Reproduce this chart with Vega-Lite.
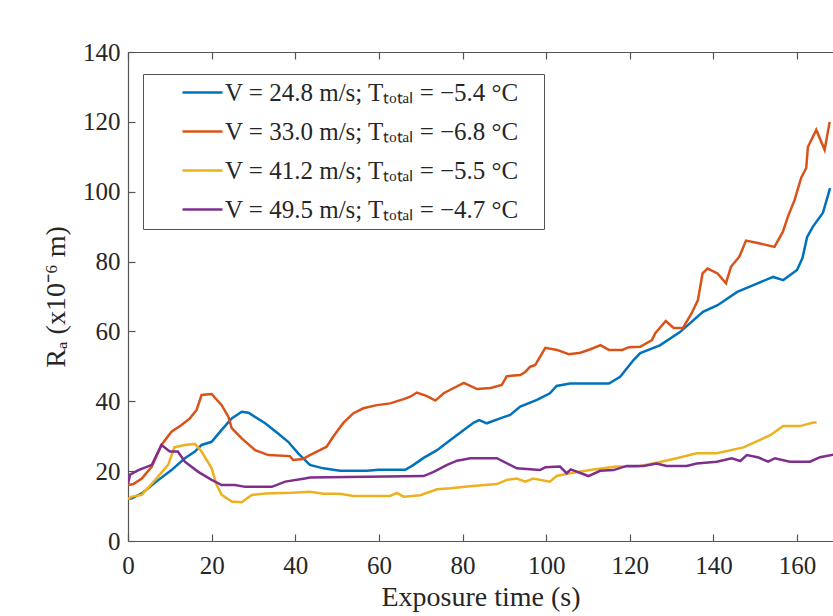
{
  "$schema": "https://vega.github.io/schema/vega-lite/v6.json",
  "autosize": {"type": "none"},
  "padding": {"left": 128, "top": 52, "right": 0, "bottom": 75},
  "width": 705,
  "height": 489,
  "background": "white",
  "config": {
    "view": {"stroke": null},
    "font": "Liberation Serif",
    "axis": {
      "labelFont": "Liberation Serif",
      "titleFont": "Liberation Serif",
      "labelFontSize": 25,
      "titleFontSize": 28,
      "titleFontWeight": "normal",
      "labelColor": "#262626",
      "titleColor": "#262626",
      "domainColor": "#555555",
      "domainWidth": 1.2,
      "tickColor": "#555555",
      "tickWidth": 1.2,
      "tickSize": -7,
      "grid": false
    },
    "legend": {
      "labelFont": "Liberation Serif",
      "labelFontSize": 25,
      "labelColor": "#262626"
    }
  },
  "data": {
    "values": [
      {"t": 0, "r": 12, "v": "24.8"}, {"t": 0.9, "r": 12.2, "v": "24.8"}, {"t": 3.3, "r": 13.6, "v": "24.8"}, {"t": 7.3, "r": 17.5, "v": "24.8"}, {"t": 10.4, "r": 20.3, "v": "24.8"}, {"t": 13.6, "r": 23.7, "v": "24.8"}, {"t": 16, "r": 25.6, "v": "24.8"}, {"t": 17.6, "r": 27.5, "v": "24.8"}, {"t": 20, "r": 28.4, "v": "24.8"}, {"t": 22.4, "r": 31.8, "v": "24.8"}, {"t": 24.8, "r": 35.1, "v": "24.8"}, {"t": 27.2, "r": 37, "v": "24.8"}, {"t": 28.8, "r": 36.7, "v": "24.8"}, {"t": 32.8, "r": 33.7, "v": "24.8"}, {"t": 35.9, "r": 30.8, "v": "24.8"}, {"t": 38.3, "r": 28.4, "v": "24.8"}, {"t": 40.7, "r": 25.1, "v": "24.8"}, {"t": 43.5, "r": 21.8, "v": "24.8"}, {"t": 46.7, "r": 20.8, "v": "24.8"}, {"t": 50.7, "r": 20.1, "v": "24.8"}, {"t": 57.1, "r": 20.1, "v": "24.8"}, {"t": 60, "r": 20.4, "v": "24.8"}, {"t": 66.3, "r": 20.4, "v": "24.8"}, {"t": 68.3, "r": 21.8, "v": "24.8"}, {"t": 70.7, "r": 23.8, "v": "24.8"}, {"t": 73.9, "r": 26, "v": "24.8"}, {"t": 77.1, "r": 28.9, "v": "24.8"}, {"t": 80.3, "r": 31.8, "v": "24.8"}, {"t": 82.7, "r": 33.9, "v": "24.8"}, {"t": 84, "r": 34.6, "v": "24.8"}, {"t": 85.8, "r": 33.7, "v": "24.8"}, {"t": 89, "r": 35.1, "v": "24.8"}, {"t": 91.4, "r": 36.1, "v": "24.8"}, {"t": 93.8, "r": 38.5, "v": "24.8"}, {"t": 97.8, "r": 40.4, "v": "24.8"}, {"t": 100.9, "r": 42.3, "v": "24.8"}, {"t": 102.5, "r": 44.4, "v": "24.8"}, {"t": 105.7, "r": 45.1, "v": "24.8"}, {"t": 115, "r": 45.1, "v": "24.8"}, {"t": 117.7, "r": 47, "v": "24.8"}, {"t": 120.9, "r": 51.8, "v": "24.8"}, {"t": 122.5, "r": 53.8, "v": "24.8"}, {"t": 127.2, "r": 56, "v": "24.8"}, {"t": 132, "r": 59.8, "v": "24.8"}, {"t": 137.5, "r": 65.6, "v": "24.8"}, {"t": 141, "r": 67.5, "v": "24.8"}, {"t": 145.7, "r": 71.3, "v": "24.8"}, {"t": 150, "r": 73.5, "v": "24.8"}, {"t": 154.3, "r": 75.6, "v": "24.8"}, {"t": 156.7, "r": 74.7, "v": "24.8"}, {"t": 160, "r": 77.6, "v": "24.8"}, {"t": 161.3, "r": 81, "v": "24.8"}, {"t": 162.4, "r": 87, "v": "24.8"}, {"t": 163.8, "r": 90, "v": "24.8"}, {"t": 166.2, "r": 94, "v": "24.8"}, {"t": 167.9, "r": 101, "v": "24.8"},

      {"t": 0, "r": 16, "v": "33.0"}, {"t": 1.3, "r": 16.3, "v": "33.0"}, {"t": 3.3, "r": 17.9, "v": "33.0"}, {"t": 5.7, "r": 21.3, "v": "33.0"}, {"t": 8, "r": 27.5, "v": "33.0"}, {"t": 10.4, "r": 31.3, "v": "33.0"}, {"t": 12.8, "r": 33.2, "v": "33.0"}, {"t": 14.8, "r": 35.1, "v": "33.0"}, {"t": 16.4, "r": 37.5, "v": "33.0"}, {"t": 17.6, "r": 41.8, "v": "33.0"}, {"t": 20, "r": 42.1, "v": "33.0"}, {"t": 22.4, "r": 38.9, "v": "33.0"}, {"t": 24, "r": 35.6, "v": "33.0"}, {"t": 24.8, "r": 32.3, "v": "33.0"}, {"t": 27.2, "r": 29.4, "v": "33.0"}, {"t": 30.4, "r": 26, "v": "33.0"}, {"t": 33.6, "r": 24.6, "v": "33.0"}, {"t": 38.7, "r": 24.3, "v": "33.0"}, {"t": 39.5, "r": 23.2, "v": "33.0"}, {"t": 41.9, "r": 23.5, "v": "33.0"}, {"t": 43.5, "r": 24.6, "v": "33.0"}, {"t": 45.9, "r": 26, "v": "33.0"}, {"t": 47.5, "r": 27, "v": "33.0"}, {"t": 49.1, "r": 29.9, "v": "33.0"}, {"t": 51.5, "r": 33.8, "v": "33.0"}, {"t": 53.9, "r": 36.6, "v": "33.0"}, {"t": 56.3, "r": 38, "v": "33.0"}, {"t": 59.5, "r": 38.9, "v": "33.0"}, {"t": 62.7, "r": 39.4, "v": "33.0"}, {"t": 65.9, "r": 40.6, "v": "33.0"}, {"t": 67.5, "r": 41.3, "v": "33.0"}, {"t": 69.1, "r": 42.5, "v": "33.0"}, {"t": 71.5, "r": 41.5, "v": "33.0"}, {"t": 73.5, "r": 40.2, "v": "33.0"}, {"t": 75.5, "r": 42.3, "v": "33.0"}, {"t": 77.9, "r": 43.8, "v": "33.0"}, {"t": 80.3, "r": 45.3, "v": "33.0"}, {"t": 83.5, "r": 43.5, "v": "33.0"}, {"t": 86.7, "r": 43.8, "v": "33.0"}, {"t": 89.4, "r": 44.7, "v": "33.0"}, {"t": 90.6, "r": 47.2, "v": "33.0"}, {"t": 93.8, "r": 47.5, "v": "33.0"}, {"t": 95, "r": 48.4, "v": "33.0"}, {"t": 96.2, "r": 49.9, "v": "33.0"}, {"t": 97.4, "r": 50.4, "v": "33.0"}, {"t": 99.8, "r": 55.3, "v": "33.0"}, {"t": 102.6, "r": 54.7, "v": "33.0"}, {"t": 105.4, "r": 53.5, "v": "33.0"}, {"t": 108.2, "r": 53.9, "v": "33.0"}, {"t": 110.6, "r": 54.9, "v": "33.0"}, {"t": 113, "r": 56.1, "v": "33.0"}, {"t": 115, "r": 54.7, "v": "33.0"}, {"t": 118.2, "r": 54.7, "v": "33.0"}, {"t": 119.8, "r": 55.5, "v": "33.0"}, {"t": 122.5, "r": 55.6, "v": "33.0"}, {"t": 125.3, "r": 57.5, "v": "33.0"}, {"t": 126.1, "r": 59.5, "v": "33.0"}, {"t": 128.6, "r": 63, "v": "33.0"}, {"t": 130.5, "r": 61, "v": "33.0"}, {"t": 132.7, "r": 61, "v": "33.0"}, {"t": 134.7, "r": 65, "v": "33.0"}, {"t": 136.3, "r": 69, "v": "33.0"}, {"t": 137.4, "r": 76.6, "v": "33.0"}, {"t": 138.6, "r": 78, "v": "33.0"}, {"t": 141, "r": 76.6, "v": "33.0"}, {"t": 143, "r": 73.8, "v": "33.0"}, {"t": 144.2, "r": 78.5, "v": "33.0"}, {"t": 146.2, "r": 81.4, "v": "33.0"}, {"t": 147.8, "r": 86, "v": "33.0"}, {"t": 150.6, "r": 85.3, "v": "33.0"}, {"t": 154.6, "r": 84.2, "v": "33.0"}, {"t": 156.6, "r": 88.5, "v": "33.0"}, {"t": 157.8, "r": 92.8, "v": "33.0"}, {"t": 159.4, "r": 97.6, "v": "33.0"}, {"t": 161, "r": 104, "v": "33.0"}, {"t": 162.2, "r": 106.8, "v": "33.0"}, {"t": 162.6, "r": 112.8, "v": "33.0"}, {"t": 164.6, "r": 117.7, "v": "33.0"}, {"t": 166.6, "r": 112, "v": "33.0"}, {"t": 167.8, "r": 120, "v": "33.0"},

      {"t": 0, "r": 12, "v": "41.2"}, {"t": 0.9, "r": 12.7, "v": "41.2"}, {"t": 3.3, "r": 13.2, "v": "41.2"}, {"t": 6.5, "r": 17.5, "v": "41.2"}, {"t": 9.6, "r": 21.8, "v": "41.2"}, {"t": 11.1, "r": 26.8, "v": "41.2"}, {"t": 13.6, "r": 27.5, "v": "41.2"}, {"t": 16, "r": 27.8, "v": "41.2"}, {"t": 17.6, "r": 25.6, "v": "41.2"}, {"t": 20, "r": 20.8, "v": "41.2"}, {"t": 21.2, "r": 16, "v": "41.2"}, {"t": 22.4, "r": 13.2, "v": "41.2"}, {"t": 24.8, "r": 11.3, "v": "41.2"}, {"t": 27.2, "r": 11.1, "v": "41.2"}, {"t": 29.6, "r": 13.2, "v": "41.2"}, {"t": 32.8, "r": 13.6, "v": "41.2"}, {"t": 39.2, "r": 13.8, "v": "41.2"}, {"t": 43.5, "r": 14.1, "v": "41.2"}, {"t": 46.7, "r": 13.5, "v": "41.2"}, {"t": 50.7, "r": 13.5, "v": "41.2"}, {"t": 53.9, "r": 12.9, "v": "41.2"}, {"t": 62.7, "r": 12.9, "v": "41.2"}, {"t": 64.3, "r": 13.8, "v": "41.2"}, {"t": 65.9, "r": 12.7, "v": "41.2"}, {"t": 69.9, "r": 13.1, "v": "41.2"}, {"t": 73.9, "r": 14.8, "v": "41.2"}, {"t": 77.1, "r": 15.1, "v": "41.2"}, {"t": 81.8, "r": 15.7, "v": "41.2"}, {"t": 88.2, "r": 16.3, "v": "41.2"}, {"t": 90.6, "r": 17.5, "v": "41.2"}, {"t": 93, "r": 17.9, "v": "41.2"}, {"t": 95, "r": 17, "v": "41.2"}, {"t": 96.9, "r": 17.9, "v": "41.2"}, {"t": 100.9, "r": 17, "v": "41.2"}, {"t": 102.5, "r": 18.6, "v": "41.2"}, {"t": 105.7, "r": 19.4, "v": "41.2"}, {"t": 111.3, "r": 20.5, "v": "41.2"}, {"t": 116.9, "r": 21.3, "v": "41.2"}, {"t": 121.7, "r": 21.3, "v": "41.2"}, {"t": 126.4, "r": 22.4, "v": "41.2"}, {"t": 131.2, "r": 23.7, "v": "41.2"}, {"t": 136, "r": 25.1, "v": "41.2"}, {"t": 140.8, "r": 25.1, "v": "41.2"}, {"t": 147.2, "r": 26.8, "v": "41.2"}, {"t": 153.6, "r": 30.3, "v": "41.2"}, {"t": 156.7, "r": 32.9, "v": "41.2"}, {"t": 160.7, "r": 32.9, "v": "41.2"}, {"t": 163.9, "r": 33.9, "v": "41.2"}, {"t": 164.7, "r": 33.9, "v": "41.2"},

      {"t": 0, "r": 16.5, "v": "49.5"}, {"t": 0.5, "r": 19, "v": "49.5"}, {"t": 2.5, "r": 20.3, "v": "49.5"}, {"t": 5.7, "r": 21.8, "v": "49.5"}, {"t": 8, "r": 27.5, "v": "49.5"}, {"t": 10, "r": 25.6, "v": "49.5"}, {"t": 11.9, "r": 25.6, "v": "49.5"}, {"t": 13.6, "r": 22.7, "v": "49.5"}, {"t": 16.8, "r": 19.8, "v": "49.5"}, {"t": 20, "r": 17.5, "v": "49.5"}, {"t": 22.4, "r": 16, "v": "49.5"}, {"t": 25.6, "r": 16, "v": "49.5"}, {"t": 28, "r": 15.5, "v": "49.5"}, {"t": 34.4, "r": 15.5, "v": "49.5"}, {"t": 37.6, "r": 17, "v": "49.5"}, {"t": 42.3, "r": 17.9, "v": "49.5"}, {"t": 43.5, "r": 18.2, "v": "49.5"}, {"t": 70.7, "r": 18.6, "v": "49.5"}, {"t": 73.1, "r": 19.8, "v": "49.5"}, {"t": 76.3, "r": 21.8, "v": "49.5"}, {"t": 78.7, "r": 23, "v": "49.5"}, {"t": 81.9, "r": 23.7, "v": "49.5"}, {"t": 88.2, "r": 23.7, "v": "49.5"}, {"t": 93, "r": 20.8, "v": "49.5"}, {"t": 98.5, "r": 20.3, "v": "49.5"}, {"t": 99.8, "r": 21.1, "v": "49.5"}, {"t": 103.3, "r": 21.3, "v": "49.5"}, {"t": 104.9, "r": 19.4, "v": "49.5"}, {"t": 105.9, "r": 20.5, "v": "49.5"}, {"t": 110.1, "r": 18.6, "v": "49.5"}, {"t": 112.9, "r": 20.1, "v": "49.5"}, {"t": 116.1, "r": 20.3, "v": "49.5"}, {"t": 119.3, "r": 21.5, "v": "49.5"}, {"t": 123.3, "r": 21.5, "v": "49.5"}, {"t": 126.4, "r": 22.2, "v": "49.5"}, {"t": 128.8, "r": 21.5, "v": "49.5"}, {"t": 133.6, "r": 21.5, "v": "49.5"}, {"t": 136, "r": 22.2, "v": "49.5"}, {"t": 140.8, "r": 22.7, "v": "49.5"}, {"t": 144.4, "r": 23.7, "v": "49.5"}, {"t": 146.4, "r": 22.9, "v": "49.5"}, {"t": 148, "r": 24.6, "v": "49.5"}, {"t": 150.8, "r": 23.9, "v": "49.5"}, {"t": 153.1, "r": 22.7, "v": "49.5"}, {"t": 154.7, "r": 23.7, "v": "49.5"}, {"t": 158.3, "r": 22.7, "v": "49.5"}, {"t": 163.1, "r": 22.7, "v": "49.5"}, {"t": 165.5, "r": 24, "v": "49.5"}, {"t": 170, "r": 25, "v": "49.5"}
    ]
  },
  "layer": [
    {
      "mark": {"type": "line", "strokeWidth": 2.5, "clip": true},
      "encoding": {
        "x": {
          "field": "t", "type": "quantitative",
          "scale": {"domain": [0, 168.6], "nice": false},
          "axis": {"values": [0, 20, 40, 60, 80, 100, 120, 140, 160], "title": "Exposure time (s)", "labelPadding": 19, "titlePadding": 5, "labelFlush": false}
        },
        "y": {
          "field": "r", "type": "quantitative",
          "scale": {"domain": [0, 140], "nice": false},
          "axis": {"values": [0, 20, 40, 60, 80, 100, 120, 140], "title": "Rₐ (x10⁻⁶ m)", "labelPadding": 15, "titlePadding": 12, "labelFlush": false}
        },
        "color": {
          "field": "v", "type": "nominal",
          "scale": {"domain": ["24.8", "33.0", "41.2", "49.5"], "range": ["#0072BD", "#D95319", "#EDB120", "#7E2F8E"]},
          "legend": {
            "title": null,
            "orient": "none",
            "legendX": 15,
            "legendY": 22,
            "symbolType": "M-2,0H2",
            "symbolSize": 400,
            "symbolStrokeWidth": 2.5,
            "symbolOffset": 41,
            "labelOffset": 10,
            "rowPadding": 13,
            "padding": 6,
            "strokeColor": "#555555",
            "fillColor": "white",
            "labelLimit": 500,
            "labelExpr": "(datum.label == '24.8' ? 'V = 24.8 m/s; Tₜₒₜₐₗ = −5.4 °C' : datum.label == '33.0' ? 'V = 33.0 m/s; Tₜₒₜₐₗ = −6.8 °C' : datum.label == '41.2' ? 'V = 41.2 m/s; Tₜₒₜₐₗ = −5.5 °C' : 'V = 49.5 m/s; Tₜₒₜₐₗ = −4.7 °C') + '\u2800'"
          }
        },
        "order": {"field": "t", "type": "quantitative"}
      }
    },
    {
      "mark": {"type": "line", "opacity": 0},
      "encoding": {
        "x": {
          "field": "t", "type": "quantitative",
          "axis": {"orient": "top", "values": [0, 20, 40, 60, 80, 100, 120, 140, 160], "labels": false, "title": null}
        },
        "y": {
          "field": "r", "type": "quantitative",
          "axis": {"values": [0, 20, 40, 60, 80, 100, 120, 140], "title": "Rₐ (x10⁻⁶ m)", "labelPadding": 15, "titlePadding": 12, "labelFlush": false}
        },
        "detail": {"field": "v", "type": "nominal"}
      }
    }
  ],
  "resolve": {"axis": {"x": "independent"}}
}
